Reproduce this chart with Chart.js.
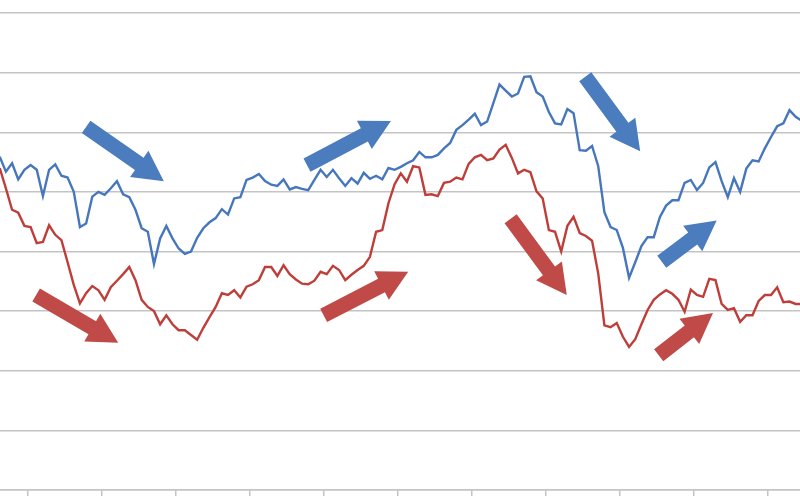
<!DOCTYPE html>
<html>
<head>
<meta charset="utf-8">
<script src="https://cdn.jsdelivr.net/npm/chart.js@4"></script>
<style>
  html, body { margin: 0; padding: 0; background: #fff; }
  #wrap { width: 800px; height: 500px; }
</style>
</head>
<body>
<div id="wrap"><canvas id="chart" width="800" height="500"></canvas></div>
<script>
// ── Data (monthly points, values on a 0–80 scale) ─────────────
const blueValues = [
  55.9, 53.4, 54.8, 52.1, 53.7, 54.5, 53.7, 49.3, 53.7, 54.6,
  52.7, 52.4, 50.0, 44.1, 44.7, 49.2, 50.0, 49.5, 50.6, 51.8,
  49.6, 49.1, 47.0, 43.9, 43.3, 37.9, 42.2, 44.3, 42.2, 40.5,
  39.6, 40.0, 42.3, 43.9, 44.9, 45.6, 47.1, 46.2, 48.9, 49.1,
  52.0, 52.4, 53.0, 51.8, 51.2, 51.0, 52.1, 50.4, 50.8, 50.5,
  50.3, 52.0, 53.7, 52.5, 53.7, 52.3, 51.0, 52.3, 51.4, 53.2,
  52.2, 52.7, 52.1, 54.0, 53.7, 54.2, 54.8, 55.3, 56.7, 55.8,
  55.8, 56.2, 57.3, 58.2, 60.4, 61.2, 62.1, 63.1, 61.2, 61.8,
  64.9, 68.0, 67.0, 66.0, 66.5, 69.3, 69.4, 66.7, 66.0, 63.4,
  61.5, 61.3, 63.9, 63.2, 57.0, 56.9, 57.7, 54.3, 46.6, 44.1,
  43.6, 40.6, 35.6, 38.2, 40.9, 42.4, 42.4, 45.8, 47.7, 48.6,
  48.6, 51.5, 52.0, 50.3, 51.5, 54.1, 55.0, 51.8, 49.1, 52.3,
  50.0, 53.9, 55.3, 55.1, 57.3, 59.2, 61.0, 61.5, 63.7, 62.6,
  61.9
];

const redValues = [
  54.0, 50.6, 47.0, 46.5, 44.3, 44.1, 41.4, 41.6, 44.4, 42.8,
  41.9, 38.2, 34.4, 31.3, 33.0, 34.2, 33.5, 31.9, 34.0, 35.1,
  36.2, 37.4, 35.2, 31.9, 30.7, 30.0, 27.8, 29.3, 27.8, 26.8,
  26.8, 26.0, 25.2, 27.2, 29.0, 30.7, 33.0, 32.7, 33.5, 32.3,
  34.1, 34.5, 35.2, 37.4, 37.4, 35.9, 37.7, 36.2, 35.3, 34.6,
  34.5, 35.1, 36.6, 36.2, 37.6, 36.9, 35.2, 36.1, 36.9, 37.6,
  39.1, 43.3, 43.6, 48.1, 51.3, 53.1, 51.7, 54.3, 54.1, 49.5,
  49.6, 49.3, 51.5, 51.7, 52.4, 52.1, 54.7, 55.8, 56.2, 55.3,
  55.6, 57.1, 57.9, 55.7, 53.1, 53.7, 53.3, 50.1, 48.9, 43.6,
  43.3, 40.0, 44.3, 45.8, 43.1, 42.6, 41.8, 36.3, 27.6, 27.3,
  28.0, 25.7, 24.0, 25.3, 27.8, 30.2, 31.9, 32.8, 33.5, 32.9,
  31.9, 29.9, 33.6, 32.7, 32.4, 35.4, 35.2, 31.2, 30.2, 30.5,
  28.2, 29.3, 29.3, 31.7, 32.7, 32.7, 34.0, 31.5, 31.6, 31.2,
  31.2
];

// year boundaries on the month axis (tick marks only, no labels)
const yearTicks = [4.5, 16.5, 28.5, 40.5, 52.5, 64.5, 76.5, 88.5, 100.5, 112.5, 124.5];
const yTicks = [0, 10, 20, 30, 40, 50, 60, 70, 80];

// trend arrows: [tailMonth, tailValue, tipMonth, tipValue]
const blueArrows = [
  [14.0, 60.9, 26.6, 51.8],
  [49.8, 54.5, 63.4, 61.9],
  [94.9, 69.3, 103.8, 56.8],
  [107.3, 38.3, 116.2, 45.2]
];
const redArrows = [
  [5.9, 32.7, 19.2, 24.7],
  [52.5, 29.3, 66.2, 36.6],
  [82.8, 45.5, 91.9, 32.7],
  [106.8, 22.6, 115.6, 29.7]
];

const BLUE = '#4677BD';
const RED = '#BE3E3A';
const GRID = '#c4c4c4';

// ── Arrow plugin ─────────────────────────────
const arrowPlugin = {
  id: 'trendArrows',
  afterDatasetsDraw(chart) {
    const { ctx, scales: { x, y } } = chart;
    const draw = (a, color) => {
      const x0 = x.getPixelForValue(a[0]), y0 = y.getPixelForValue(a[1]);
      const x1 = x.getPixelForValue(a[2]), y1 = y.getPixelForValue(a[3]);
      const len = Math.hypot(x1 - x0, y1 - y0);
      const dx = (x1 - x0) / len, dy = (y1 - y0) / len;
      const nx = -dy, ny = dx;
      const shaft = 7.5, head = 16, headLen = 30;
      const bx = x1 - dx * headLen, by = y1 - dy * headLen;
      ctx.save();
      ctx.fillStyle = color;
      ctx.beginPath();
      ctx.moveTo(x0 + nx * shaft, y0 + ny * shaft);
      ctx.lineTo(bx + nx * shaft, by + ny * shaft);
      ctx.lineTo(bx + nx * head, by + ny * head);
      ctx.lineTo(x1, y1);
      ctx.lineTo(bx - nx * head, by - ny * head);
      ctx.lineTo(bx - nx * shaft, by - ny * shaft);
      ctx.lineTo(x0 - nx * shaft, y0 - ny * shaft);
      ctx.closePath();
      ctx.fill();
      ctx.restore();
    };
    blueArrows.forEach(a => draw(a, '#4A7CBE'));
    redArrows.forEach(a => draw(a, '#BF4A47'));
  }
};

// ── Chart ─────────────────────────────────────
new Chart(document.getElementById('chart'), {
  type: 'line',
  data: {
    datasets: [
      {
        data: blueValues.map((v, i) => ({ x: i, y: v })),
        borderColor: BLUE,
        borderWidth: 2.4,
        pointRadius: 0,
        tension: 0
      },
      {
        data: redValues.map((v, i) => ({ x: i, y: v })),
        borderColor: RED,
        borderWidth: 2.4,
        pointRadius: 0,
        tension: 0
      }
    ]
  },
  options: {
    responsive: false,
    animation: false,
    layout: { padding: { top: 13, bottom: 4, left: 0, right: 0 } },
    plugins: { legend: { display: false }, tooltip: { enabled: false } },
    scales: {
      x: {
        type: 'linear',
        min: 0.044,
        max: 129.7,
        afterBuildTicks: axis => { axis.ticks = yearTicks.map(v => ({ value: v })); },
        ticks: { display: false },
        grid: { drawOnChartArea: false, drawTicks: true, tickLength: 6, color: GRID, lineWidth: 1.5 },
        border: { display: true, color: GRID, width: 1.5 }
      },
      y: {
        min: 0,
        max: 80,
        afterBuildTicks: axis => { axis.ticks = yTicks.map(v => ({ value: v })); },
        ticks: { display: false },
        grid: { color: GRID, lineWidth: 1.5, drawTicks: false },
        border: { display: false }
      }
    }
  },
  plugins: [arrowPlugin]
});
</script>
</body>
</html>
